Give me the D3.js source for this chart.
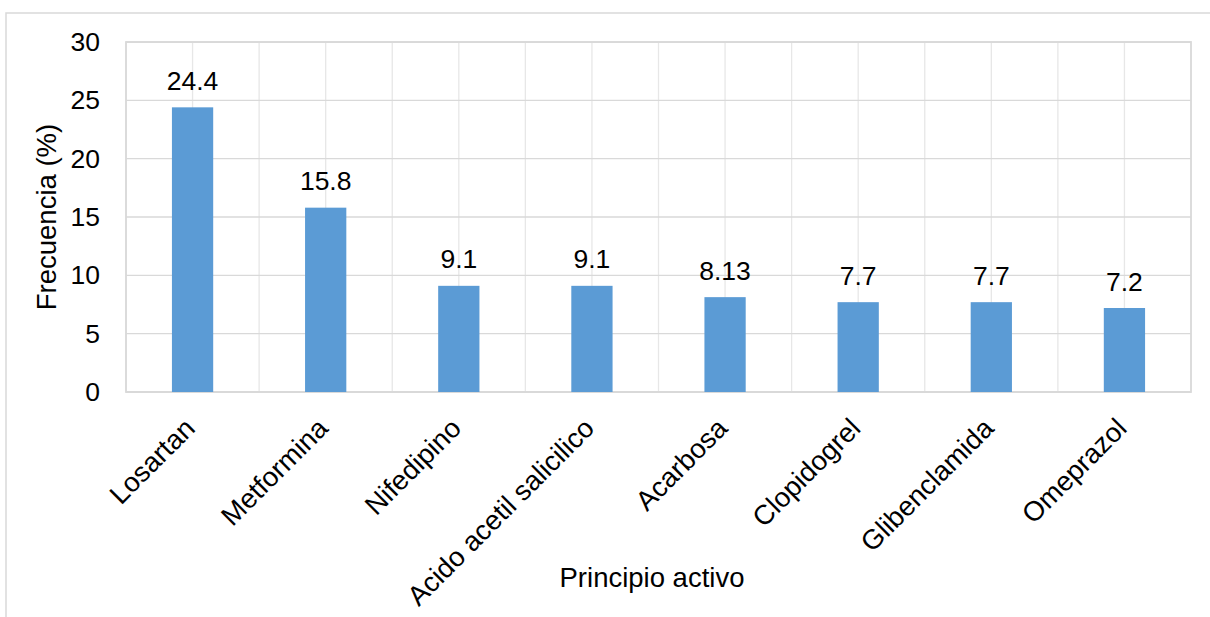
<!DOCTYPE html>
<html>
<head>
<meta charset="utf-8">
<script src="https://cdn.jsdelivr.net/npm/d3@7"></script>
<style>
  html, body { margin: 0; padding: 0; background: #ffffff; }
  svg { display: block; font-family: "Liberation Sans", Arial, sans-serif; }
</style>
</head>
<body>
<svg id="chart" width="1210" height="617"></svg>
<script>
// Active ingredients and their frequency (%)
const categories = ["Losartan", "Metformina", "Nifedipino", "Acido acetil salicilico",
                    "Acarbosa", "Clopidogrel", "Glibenclamida", "Omeprazol"];
const frecuencia = [24.4, 15.8, 9.1, 9.1, 8.13, 7.7, 7.7, 7.2];
const valueLabels = ["24.4", "15.8", "9.1", "9.1", "8.13", "7.7", "7.7", "7.2"];
const yTicks = [0, 5, 10, 15, 20, 25, 30];
const yTitle = "Frecuencia (%)";
const xTitle = "Principio activo";

const svg = d3.select("#chart");
const plot = { left: 126, right: 1191, top: 42, bottom: 392 };

// Outer chart frame
svg.append("rect")
  .attr("x", 6).attr("y", 13)
  .attr("width", 1300).attr("height", 700)
  .attr("fill", "#ffffff")
  .attr("stroke", "#d9d9d9").attr("stroke-width", 1.5);

const y = d3.scaleLinear().domain([0, 30]).range([plot.bottom, plot.top]);
const xBand = d3.scaleBand().domain(categories).range([plot.left, plot.right]).padding(0);
const xBar = d3.scaleBand().domain(categories).range([plot.left, plot.right])
  .paddingInner(0.69).paddingOuter(0.345);

const grid = svg.append("g");
// vertical gridlines at category boundaries and category centres
const vLines = [];
categories.forEach(c => {
  vLines.push(xBand(c));
  vLines.push(xBand(c) + xBand.bandwidth() / 2);
});
grid.selectAll("line.v").data(vLines).join("line")
  .attr("class", "v")
  .attr("x1", d => d).attr("x2", d => d)
  .attr("y1", plot.top).attr("y2", plot.bottom)
  .attr("stroke", "#e7e7e7").attr("stroke-width", 1.3);
// horizontal gridlines
grid.selectAll("line.h").data(yTicks).join("line")
  .attr("class", "h")
  .attr("x1", plot.left).attr("x2", plot.right)
  .attr("y1", d => y(d)).attr("y2", d => y(d))
  .attr("stroke", "#d9d9d9").attr("stroke-width", 1.3);
// plot-area frame
grid.append("rect")
  .attr("x", plot.left).attr("y", plot.top)
  .attr("width", plot.right - plot.left).attr("height", plot.bottom - plot.top)
  .attr("fill", "none").attr("stroke", "#d9d9d9").attr("stroke-width", 1.8);

// bars
svg.append("g").selectAll("rect").data(categories).join("rect")
  .attr("x", c => xBar(c))
  .attr("width", xBar.bandwidth())
  .attr("y", (c, i) => y(frecuencia[i]))
  .attr("height", (c, i) => y(0) - y(frecuencia[i]))
  .attr("fill", "#5b9bd5");

// value labels
svg.append("g").selectAll("text").data(categories).join("text")
  .attr("x", c => xBand(c) + xBand.bandwidth() / 2)
  .attr("y", (c, i) => y(frecuencia[i]) - 17.5)
  .attr("text-anchor", "middle")
  .attr("font-size", 26.5)
  .attr("fill", "#000000")
  .text((c, i) => valueLabels[i]);

// y axis tick labels
const yAxis = d3.axisLeft(y).tickValues(yTicks).tickSize(0).tickPadding(26);
svg.append("g")
  .attr("transform", `translate(${plot.left},0)`)
  .call(yAxis)
  .call(g => g.select(".domain").remove())
  .call(g => g.selectAll("text")
    .attr("font-size", 26.5)
    .attr("font-family", "Liberation Sans, Arial, sans-serif")
    .attr("fill", "#000000"));

// x axis category labels, rotated
const xAxis = d3.axisBottom(xBand).tickSize(0).tickPadding(0);
svg.append("g")
  .attr("transform", `translate(0,${plot.bottom})`)
  .call(xAxis)
  .call(g => g.select(".domain").remove())
  .call(g => g.selectAll(".tick text")
    .attr("font-size", 27.5)
    .attr("font-family", "Liberation Sans, Arial, sans-serif")
    .attr("fill", "#000000")
    .attr("text-anchor", "end")
    .attr("x", 0).attr("y", 0).attr("dy", 0)
    .attr("transform", "translate(4,38) rotate(-45)"));

// axis titles
svg.append("text")
  .attr("transform", "translate(46,217) rotate(-90)")
  .attr("text-anchor", "middle")
  .attr("dy", "0.35em")
  .attr("font-size", 27.5)
  .attr("fill", "#000000")
  .text(yTitle);

svg.append("text")
  .attr("x", 652).attr("y", 577)
  .attr("text-anchor", "middle")
  .attr("dy", "0.35em")
  .attr("font-size", 27.5)
  .attr("fill", "#000000")
  .text(xTitle);
</script>
</body>
</html>
